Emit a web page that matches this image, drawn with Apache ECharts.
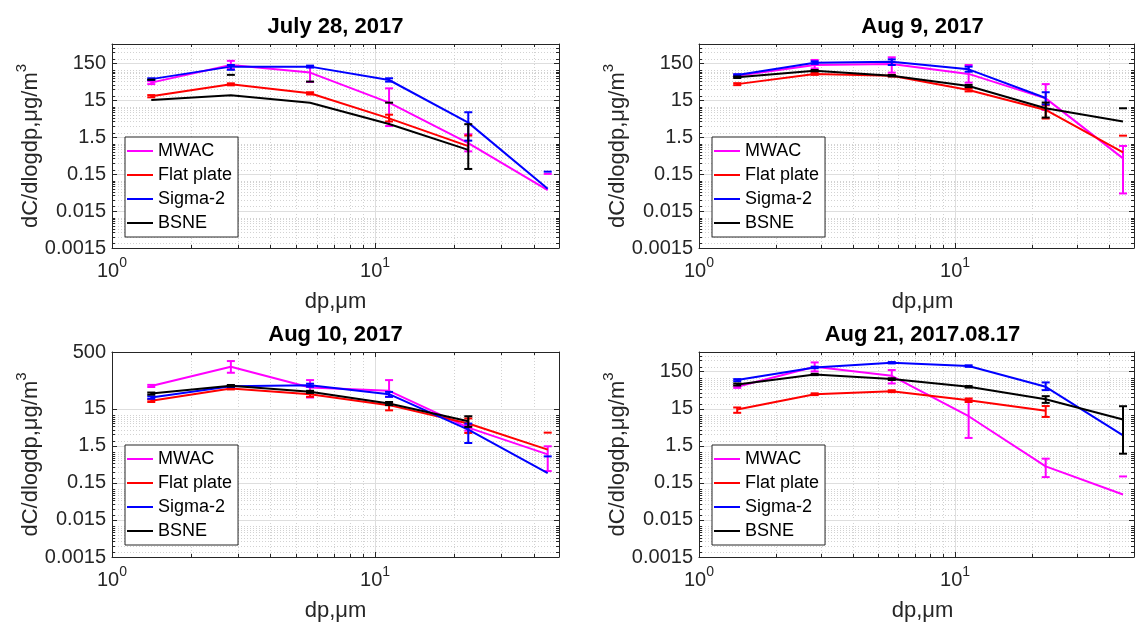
<!DOCTYPE html>
<html>
<head>
<meta charset="utf-8">
<script src="https://cdn.jsdelivr.net/npm/echarts@6/dist/echarts.min.js"></script>
<style>
html, body { margin: 0; padding: 0; background: #fff; }
#main { width: 1137px; height: 622px; }
</style>
</head>
<body>
<div id="main"></div>
<script>
// bin centres (um)
const xCenters = [1.41, 2.83, 5.66, 11.3, 22.6, 45.3];
const seriesNames = ['MWAC', 'Flat plate', 'Sigma-2', 'BSNE'];
const seriesColors = ['#ff00ff', '#ff0000', '#0000ff', '#000000'];
const titles = ['July 28, 2017', 'Aug 9, 2017', 'Aug 10, 2017', 'Aug 21, 2017.08.17'];
const yTickLabels = ['0.0015', '0.015', '0.15', '1.5', '15', '150'];
const aug10TickLabels = ['0.0015', '0.015', '0.15', '1.5', '15', ''];

// rows: MWAC, Flat plate, Sigma-2, BSNE. null = not plotted
const jul28Values = [
  [45, 135, 84, 12.9, 1.03, 0.055],
  [19.3, 40.5, 23.1, 4.85, 0.86, null],
  [56, 122, 122, 53, 3.72, 0.06],
  [15.2, 20.6, 12.9, 3.4, 0.68, null]
];
// error bar ends (lower null -> below zero, only the upper cap shows)
const jul28Lower = [
  [41, 105, 47, 3.0, 0.62, null],
  [18, 38, 21.5, 4.0, null, null],
  [53, 100, 115, 48, 1.21, null],
  [null, null, null, null, 0.207, null]
];
const jul28Upper = [
  [49, 175, 120, 31.5, 1.8, 0.152],
  [20.7, 43, 24.7, 6.1, 1.66, null],
  [59, 135, 130, 59, 7.1, 0.175],
  [54, 73, 48, 12.9, 3.37, null]
];

const aug9Values = [
  [69.5, 135, 143, 77.5, 16.9, 0.40],
  [41, 77.5, 69.5, 28.4, 8.2, 0.58],
  [72.5, 156, 166, 103, 17.3, null],
  [63, 95, 69.5, 36.4, 9.1, 4.0]
];
const aug9Lower = [
  [65, 109, 84, 45, 8.2, 0.045],
  [38.5, 73, 66, 26, 4.8, null],
  [69, 145, 135, 89, 11.6, null],
  [60, 91, 66.5, 34, 5.1, null]
];
const aug9Upper = [
  [74, 185, 218, 135, 41, 0.87],
  [43.5, 82, 73, 31, 11, 1.65],
  [76, 170, 192, 122, 24.7, null],
  [66, 99, 72.5, 39, 13, 9.1]
];

const aug10Values = [
  [61, 200, 55.4, 45, 4.6, 0.875],
  [24.2, 52, 36.6, 18.5, 5.9, 1.17],
  [29.7, 60, 64, 36.6, 4.05, 0.273],
  [38, 61.5, 42.3, 20.5, 6.8, null]
];
const aug10Lower = [
  [57, 138, 29.7, 31, 3.8, 0.31],
  [22.5, 49, 31, 13.4, 3.3, null],
  [27.5, 57, 58, 31, 1.77, null],
  [35.5, 58.5, 39.5, 18.5, 4.8, null]
];
const aug10Upper = [
  [65, 285, 87.5, 87.5, 5.4, 1.44],
  [26, 55, 42, 21, 8.1, 3.36],
  [32, 63, 70, 42, 5.9, 0.77],
  [40.5, 64.5, 45, 22.5, 9.3, null]
];

const aug21Values = [
  [57.8, 200, 114.5, 9.3, 0.414, 0.0726],
  [14.1, 36.6, 44, 25.2, 13, null],
  [87.5, 192, 257, 209, 57.8, 2.85],
  [66.8, 124, 93, 57.8, 26.8, 7.6]
];
const aug21Lower = [
  [54, 150, 71, 2.42, 0.213, null],
  [11.5, 34.5, 41.5, 22.5, 8.9, null],
  [82, 183, 246, 199, 47, null],
  [62.5, 119, 88, 55, 21.3, 0.91]
];
const aug21Upper = [
  [62, 262, 163, 25.2, 0.668, 0.222],
  [16, 38.5, 46.5, 28, 17.5, null],
  [93, 201, 268, 219, 75.7, null],
  [71, 129, 98, 60.5, 32.3, 17.3]
];

const panelValues = [jul28Values, aug9Values, aug10Values, aug21Values];
const panelLower = [jul28Lower, aug9Lower, aug10Lower, aug21Lower];
const panelUpper = [jul28Upper, aug9Upper, aug10Upper, aug21Upper];
const panelTickLabels = [yTickLabels, yTickLabels, aug10TickLabels, yTickLabels];
const panelTopLabel = ['', '', '500', ''];
const panelMinorLimit = [500, 500, 15, 500];

const FONT = '"Liberation Sans", Arial, Helvetica, sans-serif';
const Y_MIN = 0.0015, Y_MAX = 500, X_MAX = 50;
const yMaxU = Math.log10(Y_MAX / Y_MIN);
const xMaxU = Math.log10(X_MAX);
const toU = v => Math.log10(v / Y_MIN);

const layouts = [
  { left: 112, top: 44, height: 204 },
  { left: 699, top: 44, height: 204 },
  { left: 112, top: 352, height: 205 },
  { left: 699, top: 352, height: 205 }
];
const GRID_W = 447;

const isInt = v => Math.abs(v - Math.round(v)) < 1e-6;

var myChart = echarts.init(document.getElementById('main'));
var option = { animation: false, grid: [], xAxis: [], yAxis: [], series: [], legend: [], graphic: [] };

function crisp(v) { return Math.round(v) + 0.5; }

// grid lines + inward ticks, as in matlab
function renderDecor(params, api) {
  const dir = api.value(0), v = api.value(1), minor = api.value(2);
  let a, b;
  if (dir === 0) { a = api.coord([v, 0]); b = api.coord([v, yMaxU]); }
  else { a = api.coord([0, v]); b = api.coord([xMaxU, v]); }
  const t = minor ? 3 : 5;
  const gridStyle = minor
    ? { stroke: '#d2d2d2', lineWidth: 1, lineDash: [1, 2] }
    : { stroke: '#dedede', lineWidth: 1 };
  const tickStyle = { stroke: '#262626', lineWidth: 1 };
  const children = [];
  if (dir === 0) {
    const x = crisp(a[0]);
    children.push({ type: 'line', shape: { x1: x, y1: a[1], x2: x, y2: b[1] }, style: gridStyle });
    children.push({ type: 'line', shape: { x1: x, y1: a[1], x2: x, y2: a[1] - t }, style: tickStyle });
    children.push({ type: 'line', shape: { x1: x, y1: b[1], x2: x, y2: b[1] + t }, style: tickStyle });
  } else {
    const y = crisp(a[1]);
    children.push({ type: 'line', shape: { x1: a[0], y1: y, x2: b[0], y2: y }, style: gridStyle });
    children.push({ type: 'line', shape: { x1: a[0], y1: y, x2: a[0] + t, y2: y }, style: tickStyle });
    children.push({ type: 'line', shape: { x1: b[0], y1: y, x2: b[0] - t, y2: y }, style: tickStyle });
  }
  return { type: 'group', children: children };
}

function makeErrorRender(color) {
  return function (params, api) {
    const x = api.value(0), lo = api.value(1), hi = api.value(2);
    const top = api.coord([x, hi]);
    const st = { stroke: color, lineWidth: 2 };
    const children = [{ type: 'line', shape: { x1: top[0] - 4, y1: top[1], x2: top[0] + 4, y2: top[1] }, style: st }];
    if (lo !== null && !isNaN(lo)) {
      const bot = api.coord([x, lo]);
      children.push({ type: 'line', shape: { x1: bot[0], y1: bot[1], x2: top[0], y2: top[1] }, style: st });
      children.push({ type: 'line', shape: { x1: bot[0] - 4, y1: bot[1], x2: bot[0] + 4, y2: bot[1] }, style: st });
    }
    return { type: 'group', children: children };
  };
}

layouts.forEach(function (L, i) {
  const labels = panelTickLabels[i];
  option.grid.push({ left: L.left, top: L.top, width: GRID_W, height: L.height });

  option.xAxis.push({
    gridIndex: i, type: 'value', position: 'bottom', min: 0, max: xMaxU, interval: 1,
    axisLine: { show: true, onZero: false, lineStyle: { color: '#262626', width: 1 } },
    axisTick: { show: false }, splitLine: { show: false },
    axisLabel: {
      margin: 8, showMaxLabel: true, showMinLabel: true,
      formatter: v => isInt(v) ? '{b|10}{s|' + Math.round(v) + '}' : '',
      rich: {
        b: { fontSize: 20, fontFamily: FONT, color: '#262626', padding: [5, 0, 0, 0] },
        s: { fontSize: 14, fontFamily: FONT, color: '#262626', verticalAlign: 'top' }
      }
    }
  });
  option.xAxis.push({
    gridIndex: i, type: 'value', position: 'top', min: 0, max: xMaxU, interval: 1,
    axisLine: { show: true, onZero: false, lineStyle: { color: '#262626', width: 1 } },
    axisTick: { show: false }, splitLine: { show: false }, axisLabel: { show: false }
  });
  option.yAxis.push({
    gridIndex: i, type: 'value', position: 'left', min: 0, max: yMaxU, interval: 1,
    axisLine: { show: true, onZero: false, lineStyle: { color: '#262626', width: 1 } },
    axisTick: { show: false }, splitLine: { show: false },
    axisLabel: {
      margin: 6, fontSize: 20, fontFamily: FONT, color: '#262626', showMaxLabel: true, showMinLabel: true,
      formatter: v => isInt(v) ? (labels[Math.round(v)] || '') : panelTopLabel[i]
    }
  });
  option.yAxis.push({
    gridIndex: i, type: 'value', position: 'right', min: 0, max: yMaxU, interval: 1,
    axisLine: { show: true, onZero: false, lineStyle: { color: '#262626', width: 1 } },
    axisTick: { show: false }, splitLine: { show: false }, axisLabel: { show: false }
  });

  // grid lines and ticks
  const decor = [];
  decor.push([0, 1, 0]);
  for (let m = 2; m <= 9; m++) decor.push([0, Math.log10(m), 1]);
  for (let m = 2; m <= 4; m++) decor.push([0, Math.log10(m * 10), 1]);
  for (let k = 1; k < labels.length; k++) if (labels[k]) decor.push([1, k, 0]);
  for (let e = -3; e <= 2; e++) {
    for (let m = 1; m <= 9; m++) {
      const val = m * Math.pow(10, e);
      const u = toU(val);
      if (u > 0.01 && u < yMaxU - 0.01 && val < panelMinorLimit[i]) decor.push([1, u, 1]);
    }
  }
  option.series.push({
    type: 'custom', xAxisIndex: 2 * i, yAxisIndex: 2 * i, z: 1, silent: true,
    encode: { x: 1, y: 1 }, data: decor, renderItem: renderDecor
  });

  seriesNames.forEach(function (name, s) {
    const vals = panelValues[i][s], lo = panelLower[i][s], hi = panelUpper[i][s];
    const pts = [], bars = [];
    xCenters.forEach(function (x, j) {
      if (vals[j] !== null) pts.push([Math.log10(x), toU(vals[j])]);
      if (hi[j] !== null) bars.push([Math.log10(x), lo[j] === null ? null : toU(lo[j]), toU(hi[j])]);
    });
    option.series.push({
      name: name, type: 'line', xAxisIndex: 2 * i, yAxisIndex: 2 * i, z: 3 + s, silent: true,
      data: pts, showSymbol: false, symbol: 'none', color: seriesColors[s],
      lineStyle: { color: seriesColors[s], width: 2 }
    });
    option.series.push({
      type: 'custom', xAxisIndex: 2 * i, yAxisIndex: 2 * i, z: 3 + s, silent: true,
      encode: { x: 0, y: 2 }, data: bars, renderItem: makeErrorRender(seriesColors[s])
    });
  });

  option.legend.push({
    orient: 'vertical', left: L.left + 13, top: L.top + 93,
    data: seriesNames.map(n => ({ name: n, icon: 'rect' })),
    itemWidth: 26, itemHeight: 2, itemGap: 4, padding: [4, 6, 4, 2],
    borderColor: '#262626', borderWidth: 1, backgroundColor: '#ffffff', borderRadius: 0,
    selectedMode: false, z: 10,
    textStyle: { fontSize: 18, fontFamily: FONT, color: '#000', lineHeight: 20 }
  });

  const cx = L.left + GRID_W / 2;
  option.graphic.push({
    type: 'text', x: cx, y: L.top - 17, z: 10,
    style: { text: titles[i], font: 'bold 22px ' + FONT, fill: '#000', align: 'center', verticalAlign: 'middle', textAlign: 'center', textVerticalAlign: 'middle' }
  });
  option.graphic.push({
    type: 'text', x: cx, y: L.top + L.height + 54, z: 10,
    style: { text: 'dp,μm', font: '22px ' + FONT, fill: '#262626', align: 'center', verticalAlign: 'middle', textAlign: 'center', textVerticalAlign: 'middle' }
  });
  option.graphic.push({
    type: 'text', x: L.left - 84, y: L.top + L.height / 2, rotation: Math.PI / 2, z: 10,
    style: {
      text: '{a|dC/dlogdp,μg/m}{s|3}', fill: '#262626', align: 'center', verticalAlign: 'middle', textAlign: 'center', textVerticalAlign: 'middle',
      rich: {
        a: { fontSize: 22, fontFamily: FONT, fill: '#262626', color: '#262626', padding: [6, 0, 0, 0] },
        s: { fontSize: 15, fontFamily: FONT, fill: '#262626', color: '#262626', verticalAlign: 'top' }
      }
    }
  });
});

myChart.setOption(option);
</script>
</body>
</html>
